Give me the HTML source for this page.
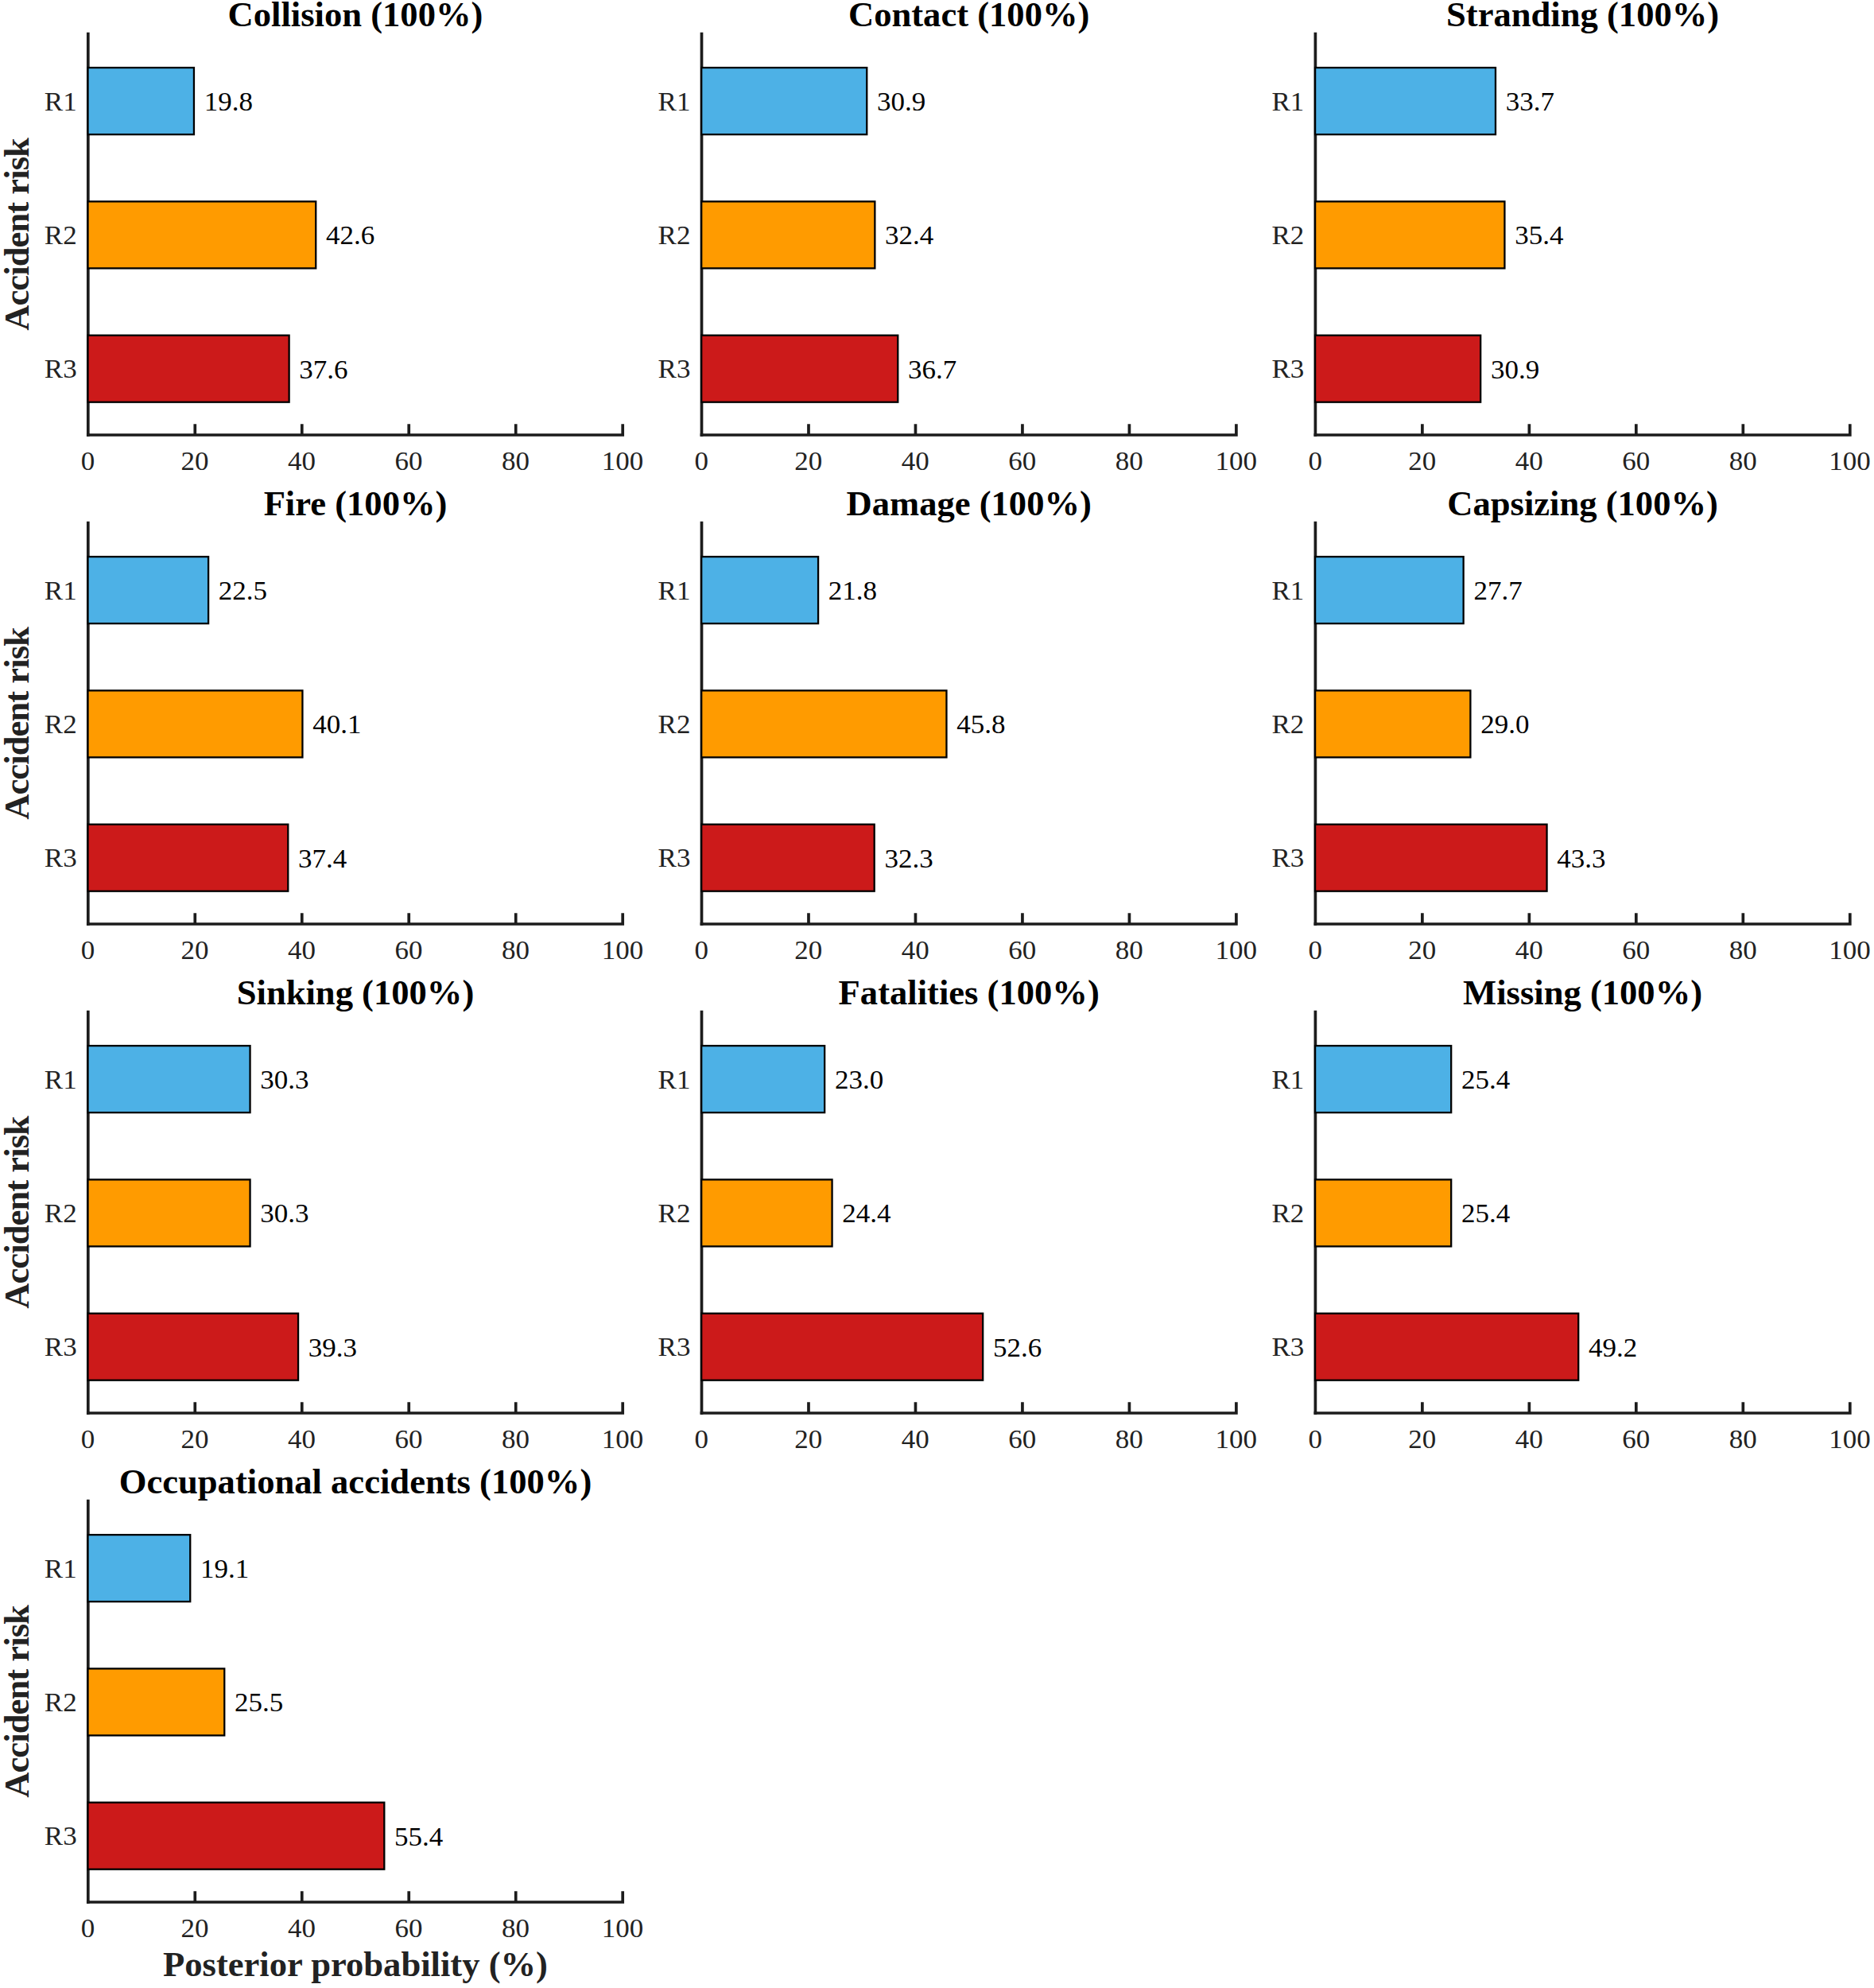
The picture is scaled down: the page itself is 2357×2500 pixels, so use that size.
<!DOCTYPE html>
<html lang="en"><head><meta charset="utf-8"><title>Posterior probability of accident risk</title>
<style>html,body{margin:0;padding:0;background:#fff}svg{display:block}text{font-family:"Liberation Serif","Times New Roman",serif}.t{font-size:44.6px;font-weight:bold;fill:#000;text-anchor:middle}.l{font-size:44.6px;font-weight:bold;fill:#222222;text-anchor:middle}.x{font-size:33.6px;fill:#222222;text-anchor:middle}.y{font-size:33.6px;fill:#222222;text-anchor:end}.v{font-size:33.6px;fill:#000;text-anchor:start}.a{fill:none;stroke:#1c1c1c;stroke-width:3.7;stroke-linecap:butt;stroke-linejoin:miter}.b{stroke:#000;stroke-width:2.3}</style></head><body>
<svg width="2357" height="2500" viewBox="0 0 2357 2500">
<rect width="2357" height="2500" fill="#fff"/>
<g>
<text class="t" x="447" y="33.2">Collision (100%)</text>
<path class="a" d="M110.8 40.7V547H785.05M110.8 547V533.3M245.28 547V533.3M379.76 547V533.3M514.24 547V533.3M648.72 547V533.3M783.2 547V533.3"/>
<rect x="108.95" y="545.15" width="3.7" height="3.7" fill="#1c1c1c"/>
<rect class="b" x="110.5" y="85.1" width="133.44" height="84" fill="#4DB1E6"/>
<rect class="b" x="110.5" y="253.4" width="286.74" height="84" fill="#FF9B00"/>
<rect class="b" x="110.5" y="421.7" width="253.12" height="84" fill="#CC1A1A"/>
<text class="x" transform="translate(110.6 591.1) scale(1.042 1)">0</text>
<text class="x" transform="translate(245.08 591.1) scale(1.042 1)">20</text>
<text class="x" transform="translate(379.56 591.1) scale(1.042 1)">40</text>
<text class="x" transform="translate(514.04 591.1) scale(1.042 1)">60</text>
<text class="x" transform="translate(648.52 591.1) scale(1.042 1)">80</text>
<text class="x" transform="translate(783 591.1) scale(1.042 1)">100</text>
<text class="y" transform="translate(96.7 138.7) scale(1.042 1)">R1</text>
<text class="v" transform="translate(256.69 139) scale(1.042 1)">19.8</text>
<text class="y" transform="translate(96.7 307) scale(1.042 1)">R2</text>
<text class="v" transform="translate(409.99 307.3) scale(1.042 1)">42.6</text>
<text class="y" transform="translate(96.7 475.3) scale(1.042 1)">R3</text>
<text class="v" transform="translate(376.37 475.6) scale(1.042 1)">37.6</text>
<text class="l" style="letter-spacing:-0.94px" transform="translate(35.9 294.9) rotate(-90)">Accident risk</text>
</g>
<g>
<text class="t" x="1218.7" y="33.2">Contact (100%)</text>
<path class="a" d="M882.5 40.7V547H1556.75M882.5 547V533.3M1016.98 547V533.3M1151.46 547V533.3M1285.94 547V533.3M1420.42 547V533.3M1554.9 547V533.3"/>
<rect x="880.65" y="545.15" width="3.7" height="3.7" fill="#1c1c1c"/>
<rect class="b" x="882.2" y="85.1" width="208.07" height="84" fill="#4DB1E6"/>
<rect class="b" x="882.2" y="253.4" width="218.16" height="84" fill="#FF9B00"/>
<rect class="b" x="882.2" y="421.7" width="247.07" height="84" fill="#CC1A1A"/>
<text class="x" transform="translate(882.3 591.1) scale(1.042 1)">0</text>
<text class="x" transform="translate(1016.78 591.1) scale(1.042 1)">20</text>
<text class="x" transform="translate(1151.26 591.1) scale(1.042 1)">40</text>
<text class="x" transform="translate(1285.74 591.1) scale(1.042 1)">60</text>
<text class="x" transform="translate(1420.22 591.1) scale(1.042 1)">80</text>
<text class="x" transform="translate(1554.7 591.1) scale(1.042 1)">100</text>
<text class="y" transform="translate(868.4 138.7) scale(1.042 1)">R1</text>
<text class="v" transform="translate(1103.02 139) scale(1.042 1)">30.9</text>
<text class="y" transform="translate(868.4 307) scale(1.042 1)">R2</text>
<text class="v" transform="translate(1113.11 307.3) scale(1.042 1)">32.4</text>
<text class="y" transform="translate(868.4 475.3) scale(1.042 1)">R3</text>
<text class="v" transform="translate(1142.02 475.6) scale(1.042 1)">36.7</text>
</g>
<g>
<text class="t" x="1990.6" y="33.2">Stranding (100%)</text>
<path class="a" d="M1654.4 40.7V547H2328.65M1654.4 547V533.3M1788.88 547V533.3M1923.36 547V533.3M2057.84 547V533.3M2192.32 547V533.3M2326.8 547V533.3"/>
<rect x="1652.55" y="545.15" width="3.7" height="3.7" fill="#1c1c1c"/>
<rect class="b" x="1654.1" y="85.1" width="226.9" height="84" fill="#4DB1E6"/>
<rect class="b" x="1654.1" y="253.4" width="238.33" height="84" fill="#FF9B00"/>
<rect class="b" x="1654.1" y="421.7" width="208.07" height="84" fill="#CC1A1A"/>
<text class="x" transform="translate(1654.2 591.1) scale(1.042 1)">0</text>
<text class="x" transform="translate(1788.68 591.1) scale(1.042 1)">20</text>
<text class="x" transform="translate(1923.16 591.1) scale(1.042 1)">40</text>
<text class="x" transform="translate(2057.64 591.1) scale(1.042 1)">60</text>
<text class="x" transform="translate(2192.12 591.1) scale(1.042 1)">80</text>
<text class="x" transform="translate(2326.6 591.1) scale(1.042 1)">100</text>
<text class="y" transform="translate(1640.3 138.7) scale(1.042 1)">R1</text>
<text class="v" transform="translate(1893.75 139) scale(1.042 1)">33.7</text>
<text class="y" transform="translate(1640.3 307) scale(1.042 1)">R2</text>
<text class="v" transform="translate(1905.18 307.3) scale(1.042 1)">35.4</text>
<text class="y" transform="translate(1640.3 475.3) scale(1.042 1)">R3</text>
<text class="v" transform="translate(1874.92 475.6) scale(1.042 1)">30.9</text>
</g>
<g>
<text class="t" x="447" y="648.2">Fire (100%)</text>
<path class="a" d="M110.8 655.7V1162H785.05M110.8 1162V1148.3M245.28 1162V1148.3M379.76 1162V1148.3M514.24 1162V1148.3M648.72 1162V1148.3M783.2 1162V1148.3"/>
<rect x="108.95" y="1160.15" width="3.7" height="3.7" fill="#1c1c1c"/>
<rect class="b" x="110.5" y="700.1" width="151.59" height="84" fill="#4DB1E6"/>
<rect class="b" x="110.5" y="868.4" width="269.93" height="84" fill="#FF9B00"/>
<rect class="b" x="110.5" y="1036.7" width="251.78" height="84" fill="#CC1A1A"/>
<text class="x" transform="translate(110.6 1206.1) scale(1.042 1)">0</text>
<text class="x" transform="translate(245.08 1206.1) scale(1.042 1)">20</text>
<text class="x" transform="translate(379.56 1206.1) scale(1.042 1)">40</text>
<text class="x" transform="translate(514.04 1206.1) scale(1.042 1)">60</text>
<text class="x" transform="translate(648.52 1206.1) scale(1.042 1)">80</text>
<text class="x" transform="translate(783 1206.1) scale(1.042 1)">100</text>
<text class="y" transform="translate(96.7 753.7) scale(1.042 1)">R1</text>
<text class="v" transform="translate(274.84 754) scale(1.042 1)">22.5</text>
<text class="y" transform="translate(96.7 922) scale(1.042 1)">R2</text>
<text class="v" transform="translate(393.18 922.3) scale(1.042 1)">40.1</text>
<text class="y" transform="translate(96.7 1090.3) scale(1.042 1)">R3</text>
<text class="v" transform="translate(375.03 1090.6) scale(1.042 1)">37.4</text>
<text class="l" style="letter-spacing:-0.94px" transform="translate(35.9 909.9) rotate(-90)">Accident risk</text>
</g>
<g>
<text class="t" x="1218.7" y="648.2">Damage (100%)</text>
<path class="a" d="M882.5 655.7V1162H1556.75M882.5 1162V1148.3M1016.98 1162V1148.3M1151.46 1162V1148.3M1285.94 1162V1148.3M1420.42 1162V1148.3M1554.9 1162V1148.3"/>
<rect x="880.65" y="1160.15" width="3.7" height="3.7" fill="#1c1c1c"/>
<rect class="b" x="882.2" y="700.1" width="146.88" height="84" fill="#4DB1E6"/>
<rect class="b" x="882.2" y="868.4" width="308.26" height="84" fill="#FF9B00"/>
<rect class="b" x="882.2" y="1036.7" width="217.49" height="84" fill="#CC1A1A"/>
<text class="x" transform="translate(882.3 1206.1) scale(1.042 1)">0</text>
<text class="x" transform="translate(1016.78 1206.1) scale(1.042 1)">20</text>
<text class="x" transform="translate(1151.26 1206.1) scale(1.042 1)">40</text>
<text class="x" transform="translate(1285.74 1206.1) scale(1.042 1)">60</text>
<text class="x" transform="translate(1420.22 1206.1) scale(1.042 1)">80</text>
<text class="x" transform="translate(1554.7 1206.1) scale(1.042 1)">100</text>
<text class="y" transform="translate(868.4 753.7) scale(1.042 1)">R1</text>
<text class="v" transform="translate(1041.83 754) scale(1.042 1)">21.8</text>
<text class="y" transform="translate(868.4 922) scale(1.042 1)">R2</text>
<text class="v" transform="translate(1203.21 922.3) scale(1.042 1)">45.8</text>
<text class="y" transform="translate(868.4 1090.3) scale(1.042 1)">R3</text>
<text class="v" transform="translate(1112.44 1090.6) scale(1.042 1)">32.3</text>
</g>
<g>
<text class="t" x="1990.6" y="648.2">Capsizing (100%)</text>
<path class="a" d="M1654.4 655.7V1162H2328.65M1654.4 1162V1148.3M1788.88 1162V1148.3M1923.36 1162V1148.3M2057.84 1162V1148.3M2192.32 1162V1148.3M2326.8 1162V1148.3"/>
<rect x="1652.55" y="1160.15" width="3.7" height="3.7" fill="#1c1c1c"/>
<rect class="b" x="1654.1" y="700.1" width="186.55" height="84" fill="#4DB1E6"/>
<rect class="b" x="1654.1" y="868.4" width="195.3" height="84" fill="#FF9B00"/>
<rect class="b" x="1654.1" y="1036.7" width="291.45" height="84" fill="#CC1A1A"/>
<text class="x" transform="translate(1654.2 1206.1) scale(1.042 1)">0</text>
<text class="x" transform="translate(1788.68 1206.1) scale(1.042 1)">20</text>
<text class="x" transform="translate(1923.16 1206.1) scale(1.042 1)">40</text>
<text class="x" transform="translate(2057.64 1206.1) scale(1.042 1)">60</text>
<text class="x" transform="translate(2192.12 1206.1) scale(1.042 1)">80</text>
<text class="x" transform="translate(2326.6 1206.1) scale(1.042 1)">100</text>
<text class="y" transform="translate(1640.3 753.7) scale(1.042 1)">R1</text>
<text class="v" transform="translate(1853.4 754) scale(1.042 1)">27.7</text>
<text class="y" transform="translate(1640.3 922) scale(1.042 1)">R2</text>
<text class="v" transform="translate(1862.15 922.3) scale(1.042 1)">29.0</text>
<text class="y" transform="translate(1640.3 1090.3) scale(1.042 1)">R3</text>
<text class="v" transform="translate(1958.3 1090.6) scale(1.042 1)">43.3</text>
</g>
<g>
<text class="t" x="447" y="1263.2">Sinking (100%)</text>
<path class="a" d="M110.8 1270.7V1777H785.05M110.8 1777V1763.3M245.28 1777V1763.3M379.76 1777V1763.3M514.24 1777V1763.3M648.72 1777V1763.3M783.2 1777V1763.3"/>
<rect x="108.95" y="1775.15" width="3.7" height="3.7" fill="#1c1c1c"/>
<rect class="b" x="110.5" y="1315.1" width="204.04" height="84" fill="#4DB1E6"/>
<rect class="b" x="110.5" y="1483.4" width="204.04" height="84" fill="#FF9B00"/>
<rect class="b" x="110.5" y="1651.7" width="264.55" height="84" fill="#CC1A1A"/>
<text class="x" transform="translate(110.6 1821.1) scale(1.042 1)">0</text>
<text class="x" transform="translate(245.08 1821.1) scale(1.042 1)">20</text>
<text class="x" transform="translate(379.56 1821.1) scale(1.042 1)">40</text>
<text class="x" transform="translate(514.04 1821.1) scale(1.042 1)">60</text>
<text class="x" transform="translate(648.52 1821.1) scale(1.042 1)">80</text>
<text class="x" transform="translate(783 1821.1) scale(1.042 1)">100</text>
<text class="y" transform="translate(96.7 1368.7) scale(1.042 1)">R1</text>
<text class="v" transform="translate(327.29 1369) scale(1.042 1)">30.3</text>
<text class="y" transform="translate(96.7 1537) scale(1.042 1)">R2</text>
<text class="v" transform="translate(327.29 1537.3) scale(1.042 1)">30.3</text>
<text class="y" transform="translate(96.7 1705.3) scale(1.042 1)">R3</text>
<text class="v" transform="translate(387.8 1705.6) scale(1.042 1)">39.3</text>
<text class="l" style="letter-spacing:-0.94px" transform="translate(35.9 1524.9) rotate(-90)">Accident risk</text>
</g>
<g>
<text class="t" x="1218.7" y="1263.2">Fatalities (100%)</text>
<path class="a" d="M882.5 1270.7V1777H1556.75M882.5 1777V1763.3M1016.98 1777V1763.3M1151.46 1777V1763.3M1285.94 1777V1763.3M1420.42 1777V1763.3M1554.9 1777V1763.3"/>
<rect x="880.65" y="1775.15" width="3.7" height="3.7" fill="#1c1c1c"/>
<rect class="b" x="882.2" y="1315.1" width="154.95" height="84" fill="#4DB1E6"/>
<rect class="b" x="882.2" y="1483.4" width="164.37" height="84" fill="#FF9B00"/>
<rect class="b" x="882.2" y="1651.7" width="353.98" height="84" fill="#CC1A1A"/>
<text class="x" transform="translate(882.3 1821.1) scale(1.042 1)">0</text>
<text class="x" transform="translate(1016.78 1821.1) scale(1.042 1)">20</text>
<text class="x" transform="translate(1151.26 1821.1) scale(1.042 1)">40</text>
<text class="x" transform="translate(1285.74 1821.1) scale(1.042 1)">60</text>
<text class="x" transform="translate(1420.22 1821.1) scale(1.042 1)">80</text>
<text class="x" transform="translate(1554.7 1821.1) scale(1.042 1)">100</text>
<text class="y" transform="translate(868.4 1368.7) scale(1.042 1)">R1</text>
<text class="v" transform="translate(1049.9 1369) scale(1.042 1)">23.0</text>
<text class="y" transform="translate(868.4 1537) scale(1.042 1)">R2</text>
<text class="v" transform="translate(1059.32 1537.3) scale(1.042 1)">24.4</text>
<text class="y" transform="translate(868.4 1705.3) scale(1.042 1)">R3</text>
<text class="v" transform="translate(1248.93 1705.6) scale(1.042 1)">52.6</text>
</g>
<g>
<text class="t" x="1990.6" y="1263.2">Missing (100%)</text>
<path class="a" d="M1654.4 1270.7V1777H2328.65M1654.4 1777V1763.3M1788.88 1777V1763.3M1923.36 1777V1763.3M2057.84 1777V1763.3M2192.32 1777V1763.3M2326.8 1777V1763.3"/>
<rect x="1652.55" y="1775.15" width="3.7" height="3.7" fill="#1c1c1c"/>
<rect class="b" x="1654.1" y="1315.1" width="171.09" height="84" fill="#4DB1E6"/>
<rect class="b" x="1654.1" y="1483.4" width="171.09" height="84" fill="#FF9B00"/>
<rect class="b" x="1654.1" y="1651.7" width="331.12" height="84" fill="#CC1A1A"/>
<text class="x" transform="translate(1654.2 1821.1) scale(1.042 1)">0</text>
<text class="x" transform="translate(1788.68 1821.1) scale(1.042 1)">20</text>
<text class="x" transform="translate(1923.16 1821.1) scale(1.042 1)">40</text>
<text class="x" transform="translate(2057.64 1821.1) scale(1.042 1)">60</text>
<text class="x" transform="translate(2192.12 1821.1) scale(1.042 1)">80</text>
<text class="x" transform="translate(2326.6 1821.1) scale(1.042 1)">100</text>
<text class="y" transform="translate(1640.3 1368.7) scale(1.042 1)">R1</text>
<text class="v" transform="translate(1837.94 1369) scale(1.042 1)">25.4</text>
<text class="y" transform="translate(1640.3 1537) scale(1.042 1)">R2</text>
<text class="v" transform="translate(1837.94 1537.3) scale(1.042 1)">25.4</text>
<text class="y" transform="translate(1640.3 1705.3) scale(1.042 1)">R3</text>
<text class="v" transform="translate(1997.97 1705.6) scale(1.042 1)">49.2</text>
</g>
<g>
<text class="t" x="447" y="1878.2">Occupational accidents (100%)</text>
<path class="a" d="M110.8 1885.7V2392H785.05M110.8 2392V2378.3M245.28 2392V2378.3M379.76 2392V2378.3M514.24 2392V2378.3M648.72 2392V2378.3M783.2 2392V2378.3"/>
<rect x="108.95" y="2390.15" width="3.7" height="3.7" fill="#1c1c1c"/>
<rect class="b" x="110.5" y="1930.1" width="128.73" height="84" fill="#4DB1E6"/>
<rect class="b" x="110.5" y="2098.4" width="171.76" height="84" fill="#FF9B00"/>
<rect class="b" x="110.5" y="2266.7" width="372.81" height="84" fill="#CC1A1A"/>
<text class="x" transform="translate(110.6 2436.1) scale(1.042 1)">0</text>
<text class="x" transform="translate(245.08 2436.1) scale(1.042 1)">20</text>
<text class="x" transform="translate(379.56 2436.1) scale(1.042 1)">40</text>
<text class="x" transform="translate(514.04 2436.1) scale(1.042 1)">60</text>
<text class="x" transform="translate(648.52 2436.1) scale(1.042 1)">80</text>
<text class="x" transform="translate(783 2436.1) scale(1.042 1)">100</text>
<text class="y" transform="translate(96.7 1983.7) scale(1.042 1)">R1</text>
<text class="v" transform="translate(251.98 1984) scale(1.042 1)">19.1</text>
<text class="y" transform="translate(96.7 2152) scale(1.042 1)">R2</text>
<text class="v" transform="translate(295.01 2152.3) scale(1.042 1)">25.5</text>
<text class="y" transform="translate(96.7 2320.3) scale(1.042 1)">R3</text>
<text class="v" transform="translate(496.06 2320.6) scale(1.042 1)">55.4</text>
<text class="l" style="letter-spacing:-0.94px" transform="translate(35.9 2139.9) rotate(-90)">Accident risk</text>
<text class="l" x="447" y="2484.8">Posterior probability (%)</text>
</g>
</svg></body></html>
